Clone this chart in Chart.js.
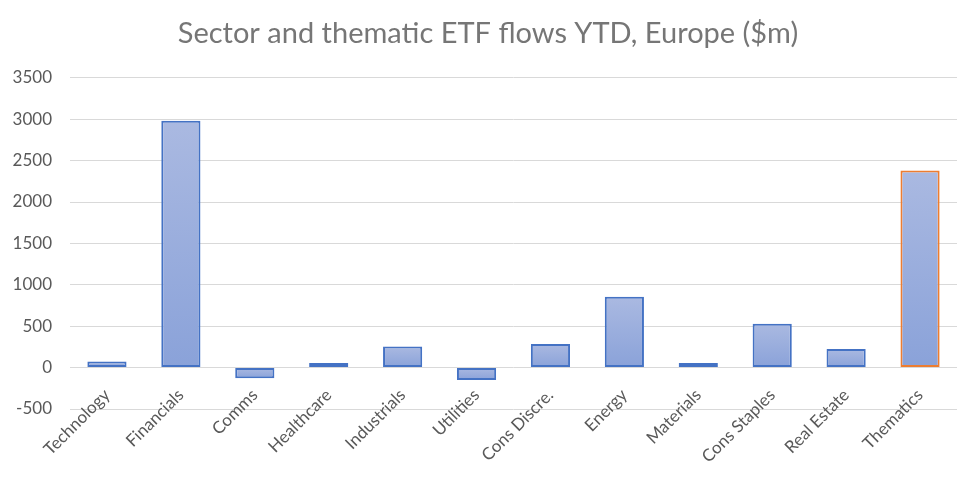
<!DOCTYPE html>
<html>
<head>
<meta charset="utf-8">
<script src="https://cdn.jsdelivr.net/npm/chart.js@4"></script>
<style>
  html, body { margin: 0; padding: 0; background: #fff; }
  #wrap { width: 976px; height: 477px; }
</style>
</head>
<body>
<div id="wrap"><canvas id="myChart"></canvas></div>
<script>
// data
const categories = ['Technology', 'Financials', 'Comms', 'Healthcare', 'Industrials', 'Utilities',
                    'Cons Discre.', 'Energy', 'Materials', 'Cons Staples', 'Real Estate', 'Thematics']
const flows = [75, 2980, -130, 55, 255, -150, 285, 855, 55, 530, 225, 2380]
const yTicks = [-500, 0, 500, 1000, 1500, 2000, 2500, 3000, 3500]
const titulo = 'Sector and thematic ETF flows YTD, Europe ($m)'

const azul = '#4472C4'
const naranja = '#ED7D31'
const gris = '#595959'

// each bar gets its own light-to-dark gradient like the excel fill
function barFill(ctx) {
    const chart = ctx.chart
    const y = chart.scales.y
    if (!chart.chartArea || !y || ctx.dataIndex === undefined) return '#9AAEDD'
    const v = ctx.dataset.data[ctx.dataIndex]
    const top = y.getPixelForValue(Math.max(v, 0))
    const bottom = y.getPixelForValue(Math.min(v, 0))
    const g = chart.ctx.createLinearGradient(0, top, 0, bottom + 0.01)
    g.addColorStop(0, '#AAB9E1')
    g.addColorStop(1, '#8AA2D9')
    return g
}

// excel lets labels spill outside their axis box, so drop chart.js's label clipping
const noClip = s => { s._computeLabelArea = () => undefined }

const config = {
    type: 'bar',
    data: {
        labels: categories,
        datasets: [{
            label: titulo,
            data: flows,
            backgroundColor: barFill,
            borderColor: flows.map((v, i) => i === flows.length - 1 ? naranja : azul),
            borderWidth: 2,
            borderSkipped: false,
            barPercentage: 0.53,
            categoryPercentage: 1
        }]
    },
    options: {
        responsive: true,
        maintainAspectRatio: false,
        animation: false,
        layout: { padding: { left: 19, right: 19, top: 0, bottom: 0 } },
        plugins: {
            legend: { display: false },
            tooltip: { enabled: false },
            title: {
                display: true,
                text: titulo,
                color: '#767676',
                font: { family: 'Lato', size: 29, weight: 'normal', lineHeight: 1.2 },
                padding: { top: 16, bottom: 27 }
            }
        },
        scales: {
            x: {
                grid: { display: false },
                border: { display: false },
                ticks: {
                    color: gris,
                    font: { family: 'Lato', size: 17 },
                    autoSkip: false,
                    maxRotation: 45,
                    minRotation: 45,
                    padding: -32
                },
                afterFit: s => {
                    s.height = 68
                    noClip(s)
                }
            },
            y: {
                min: -500,
                max: 3500,
                afterBuildTicks: s => { s.ticks = yTicks.map(v => ({ value: v })) },
                grid: { color: '#D9D9D9', lineWidth: 1, drawTicks: false },
                border: { display: false },
                ticks: {
                    color: gris,
                    font: { family: 'Lato', size: 17 },
                    padding: 18,
                    callback: v => String(v)
                },
                afterFit: s => {
                    s.width = 51
                    noClip(s)
                }
            }
        }
    }
}

new Chart(document.getElementById('myChart'), config)
</script>
</body>
</html>
